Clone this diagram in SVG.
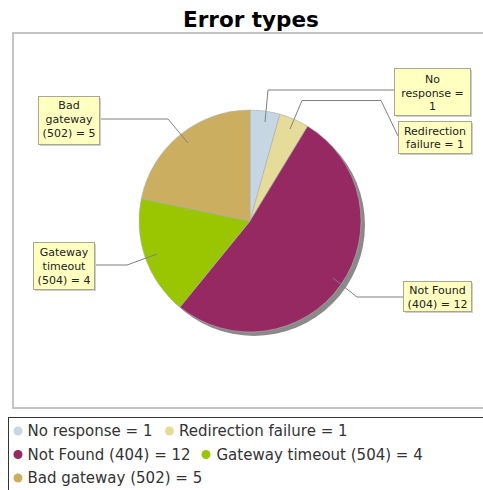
<svg xmlns="http://www.w3.org/2000/svg" width="483" height="490" viewBox="0 0 483 490">
<style>
.title{font-family:"DejaVu Sans",sans-serif;font-weight:bold;font-size:21.5px;fill:#000;text-anchor:middle}
.lbl{font-family:"DejaVu Sans",sans-serif;font-size:11px;fill:#222;text-anchor:middle}
.leg{font-family:"DejaVu Sans",sans-serif;font-size:15px;fill:#333}
.box{fill:#ffffc0;stroke:#a8a890;stroke-width:1}
.shd{fill:#cfcfcf}
.slice{stroke:#b0b0b0;stroke-width:0.6}
.conn{fill:none;stroke:#808080;stroke-width:1}
</style>
<rect width="483" height="490" fill="#ffffff"/>
<text class="title" x="251" y="27">Error types</text>
<rect id="plot" x="13" y="33" width="480" height="375" fill="#ffffff" stroke="#c4c4c4" stroke-width="2"/>
<g id="pie">
<circle cx="254" cy="225" r="111" fill="#8a8a8a"/>
<path id="s-noresponse" class="slice" fill="#c6d7e3" d="M250,221 L250,110 A111,111 0 0 1 279.95,114.12 Z"/>
<path id="s-redirection" class="slice" fill="#e6dc9a" d="M250,221 L279.95,114.12 A111,111 0 0 1 307.68,126.16 Z"/>
<path id="s-notfound" class="slice" fill="#962962" d="M250,221 L307.68,126.16 A111,111 0 1 1 179.93,307.08 Z"/>
<path id="s-gatewaytimeout" class="slice" fill="#99c600" d="M250,221 L179.93,307.08 A111,111 0 0 1 141.32,198.41 Z"/>
<path id="s-badgateway" class="slice" fill="#cbae60" d="M250,221 L141.32,198.41 A111,111 0 0 1 250,110 Z"/>
</g>
<g id="connectors">
<polyline class="conn" points="265,122 268,90 395,90"/>
<polyline class="conn" points="290,129 302,100.5 381,100.5 398,136"/>
<polyline class="conn" points="333,278 357,297 403,297"/>
<polyline class="conn" points="99,119 168,119 188,143"/>
<polyline class="conn" points="95,265 127,265 157,254"/>
</g>
<g id="label-noresponse">
<rect class="shd" x="396" y="70" width="76" height="47"/>
<rect class="box" x="394.5" y="68.5" width="76" height="47"/>
<text class="lbl" x="432.5" y="83">No</text>
<text class="lbl" x="432.5" y="96.5">response =</text>
<text class="lbl" x="432.5" y="110">1</text>
</g>
<g id="label-redirection">
<rect class="shd" x="400" y="123" width="73" height="32"/>
<rect class="box" x="398.5" y="121.5" width="73" height="32"/>
<text class="lbl" x="435" y="134.5">Redirection</text>
<text class="lbl" x="435" y="148">failure = 1</text>
</g>
<g id="label-notfound">
<rect class="shd" x="405" y="283" width="68" height="30"/>
<rect class="box" x="403.5" y="281.5" width="68" height="30"/>
<text class="lbl" x="437.5" y="294">Not Found</text>
<text class="lbl" x="437.5" y="307.5">(404) = 12</text>
</g>
<g id="label-badgateway">
<rect class="shd" x="40" y="98" width="61" height="48"/>
<rect class="box" x="38.5" y="96.5" width="61" height="48"/>
<text class="lbl" x="69" y="109">Bad</text>
<text class="lbl" x="69" y="122.5">gateway</text>
<text class="lbl" x="69" y="136.5">(502) = 5</text>
</g>
<g id="label-gatewaytimeout">
<rect class="shd" x="35" y="244" width="61" height="47"/>
<rect class="box" x="33.5" y="242.5" width="61" height="47"/>
<text class="lbl" x="64" y="256">Gateway</text>
<text class="lbl" x="64" y="269.5">timeout</text>
<text class="lbl" x="64" y="283.5">(504) = 4</text>
</g>
<g id="legend">
<rect x="8.5" y="417.5" width="490" height="90" fill="#ffffff" stroke="#333333" stroke-width="1"/>
<circle cx="18" cy="431" r="4.5" fill="#c6d7e3"/>
<text class="leg" x="27.5" y="436">No response = 1</text>
<circle cx="169.5" cy="431" r="4.5" fill="#e6dc9a"/>
<text class="leg" x="179" y="436">Redirection failure = 1</text>
<circle cx="18" cy="454.5" r="4.5" fill="#962962"/>
<text class="leg" x="27.5" y="459.5">Not Found (404) = 12</text>
<circle cx="206" cy="454.5" r="4.5" fill="#99c600"/>
<text class="leg" x="216.5" y="459.5">Gateway timeout (504) = 4</text>
<circle cx="18" cy="478" r="4.5" fill="#cbae60"/>
<text class="leg" x="27.5" y="483">Bad gateway (502) = 5</text>
</g>
</svg>
